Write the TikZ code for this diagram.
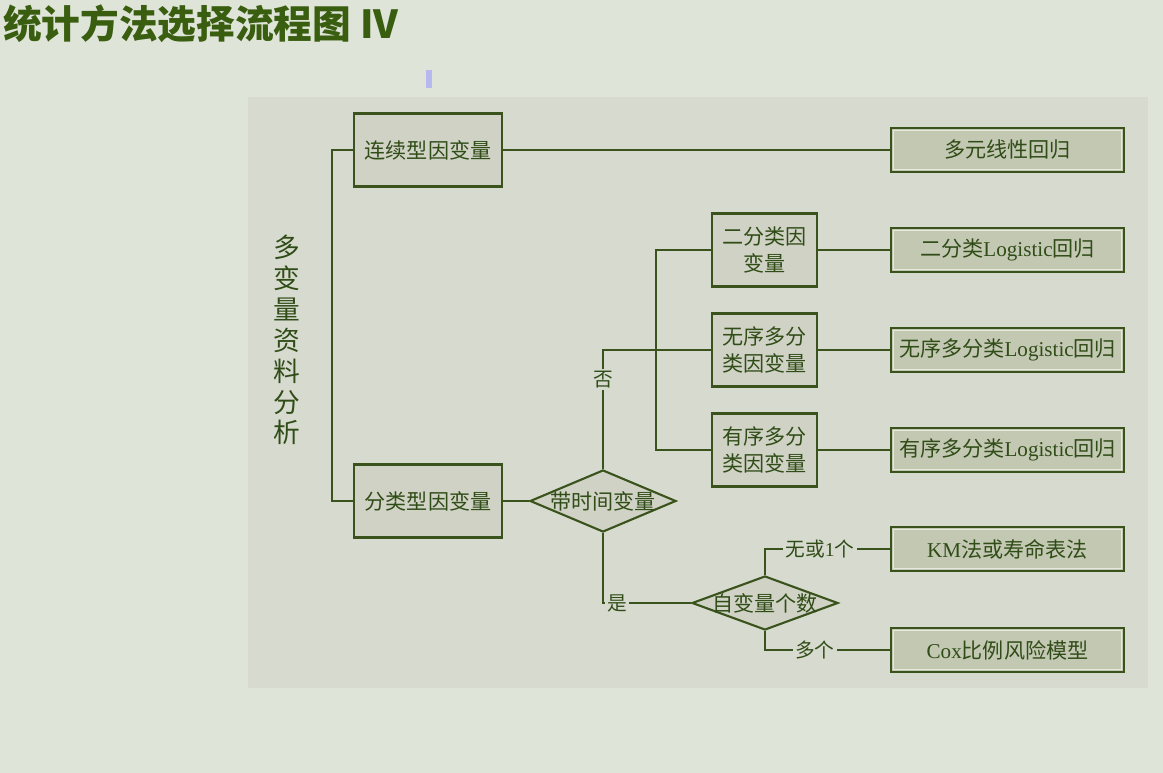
\documentclass[tikz,border=0pt]{standalone}
\usepackage{fontspec}
\usepackage{xcolor}
\usepackage{tikz}
\usetikzlibrary{shapes.geometric, positioning, calc}
\setmainfont{Liberation Serif}
\newfontfamily\cjk{Noto Sans CJK SC}
\definecolor{OuterBg}{HTML}{DFE4D8}
\definecolor{PanelBg}{HTML}{D7DBCF}
\definecolor{BoxFill}{HTML}{CFD2C4}
\definecolor{ResFill}{HTML}{C3C8B3}
\definecolor{InnerLight}{HTML}{E6EADC}
\definecolor{LineGreen}{HTML}{3A531C}
\definecolor{TextGreen}{HTML}{304C17}
\definecolor{TitleGreen}{HTML}{3A5E10}
\definecolor{CursorLav}{HTML}{B8B8F0}

\begin{document}
\begin{tikzpicture}[
  x=0.025cm, y=-0.025cm,
  box/.style={rectangle, draw=LineGreen, line width=1.8pt, fill=BoxFill,
              minimum width=3.7cm, minimum height=1.825cm, align=center,
              text=TextGreen, font=\cjk\fontsize{15pt}{19pt}\selectfont},
  midbox/.style={box, minimum width=2.625cm},
  resbox/.style={rectangle, draw=LineGreen, line width=1.6pt, fill=ResFill,
                 minimum width=5.825cm, minimum height=1.1cm, text=TextGreen,
                 font=\cjk\fontsize{15pt}{18pt}\selectfont,
                 path picture={\draw[InnerLight, line width=0.9pt]
                   ([shift={(1.7pt,1.7pt)}]path picture bounding box.south west) rectangle
                   ([shift={(-1.7pt,-1.7pt)}]path picture bounding box.north east);}},
  decision/.style={diamond, draw=LineGreen, line width=1.5pt, fill=BoxFill,
                   inner sep=0pt, text=TextGreen,
                   font=\cjk\fontsize{15pt}{18pt}\selectfont},
  link/.style={draw=LineGreen, line width=1.3pt},
  lbl/.style={font=\cjk\fontsize{14pt}{16pt}\selectfont, text=TextGreen,
              fill=PanelBg, inner sep=1.5pt},
]
\useasboundingbox (0,0) rectangle (1163,773);
\fill[OuterBg] (0,0) rectangle (1163,773);
\fill[PanelBg] (248,97) rectangle (1148,688);
\fill[CursorLav] (426,70) rectangle (432,88);

% title
\node[anchor=west, inner sep=0pt, text=TitleGreen,
      font=\cjk\bfseries\fontsize{27.5pt}{31pt}\selectfont] (head) at (3,24)
  {统计方法选择流程图 IV};

% vertical caption
\node[text=TextGreen, align=center, inner sep=0pt,
      font=\cjk\fontsize{19pt}{22pt}\selectfont] (multi) at (287,340)
  {多\\变\\量\\资\\料\\分\\析};

% left column
\node[box] (cont) at (428,150) {连续型因变量};
\node[box] (cat) at (428,501) {分类型因变量};

% decisions
\node[decision, minimum width=3.65cm, minimum height=1.55cm] (time) at (603,501)
  {\makebox[0pt]{带时间变量}};
\node[decision, minimum width=3.65cm, minimum height=1.35cm] (nvar) at (765,603)
  {\makebox[0pt]{自变量个数}};

% middle column
\node[midbox] (bin) at (764.5,250) {二分类因\\变量};
\node[midbox] (unord) at (764.5,350) {无序多分\\类因变量};
\node[midbox] (ord) at (764.5,450) {有序多分\\类因变量};

% results
\node[resbox] (mlr) at (1007.5,150) {多元线性回归};
\node[resbox] (bireg) at (1007.5,250) {二分类{\rmfamily Logistic}回归};
\node[resbox] (unreg) at (1007.5,350) {无序多分类{\rmfamily Logistic}回归};
\node[resbox] (ordreg) at (1007.5,450) {有序多分类{\rmfamily Logistic}回归};
\node[resbox] (km) at (1007.5,549) {{\rmfamily KM}法或寿命表法};
\node[resbox] (cox) at (1007.5,650) {{\rmfamily Cox}比例风险模型};

\draw[link] (cont.west) -- ++(-21,0) |- (cat.west);
\draw[link] (cont) -- (mlr);
\draw[link] (cat) -- (time);
\draw[link] (time.north) |- node[lbl, pos=0.375]{否} (unord.west);
\draw[link] (bin.west) -- ++(-55,0) |- (ord.west);
\draw[link] (bin) -- (bireg);
\draw[link] (unord) -- (unreg);
\draw[link] (ord) -- (ordreg);
\draw[link] (time.south) |- node[lbl, pos=0.58]{是} (nvar.west);
\draw[link] (nvar.north) |- node[lbl, pos=0.72]{无或{\rmfamily 1}个} (km.west);
\draw[link] (nvar.south) |- node[lbl, pos=0.70]{多个} (cox.west);

\end{tikzpicture}
\end{document}
